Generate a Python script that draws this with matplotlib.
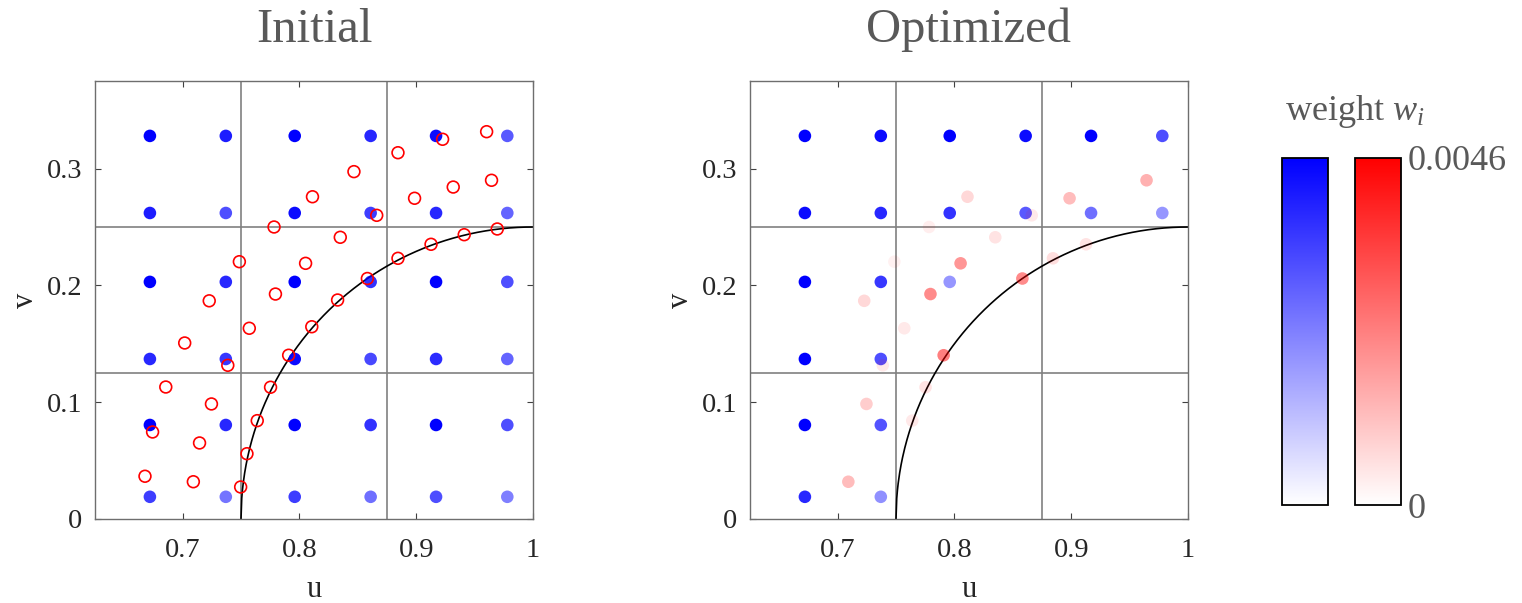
import numpy as np
import matplotlib
matplotlib.use("Agg")
import matplotlib.pyplot as plt
from matplotlib.colors import LinearSegmentedColormap, Normalize
from matplotlib.cm import ScalarMappable

plt.rcParams['font.family'] = ['Liberation Serif', 'DejaVu Serif']
plt.rcParams['mathtext.fontset'] = 'custom'
plt.rcParams['mathtext.rm'] = 'Liberation Serif'
plt.rcParams['mathtext.it'] = 'Liberation Serif:italic'

# ---------------- data ----------------
titles = ["Initial", "Optimized"]
x_ticks = [0.7, 0.8, 0.9, 1.0]
y_ticks = [0.0, 0.1, 0.2, 0.3]
cell_u = [0.75, 0.875]
cell_v = [0.125, 0.25]
w_max = 0.0046

# blue grid nodes
u_nodes = [0.672, 0.737, 0.796, 0.861, 0.917, 0.978]
v_nodes = [0.019, 0.0805, 0.137, 0.203, 0.262, 0.328]

# blue weights (x1e-3), rows = v_nodes (bottom->top), cols = u_nodes
blue_w_initial = [
    [3.5, 2.5, 3.5, 2.6, 3.2, 2.3],
    [4.6, 3.9, 4.6, 3.7, 4.6, 3.2],
    [3.9, 3.6, 4.4, 3.3, 3.8, 2.8],
    [4.6, 3.9, 4.6, 3.7, 4.6, 3.2],
    [4.1, 3.2, 4.4, 3.5, 3.9, 2.8],
    [4.6, 4.1, 4.6, 3.9, 4.4, 3.0],
]
blue_w_optimized = [
    [3.9, 2.0, 0.0, 0.0, 0.0, 0.0],
    [4.6, 3.1, 0.0, 0.0, 0.0, 0.0],
    [4.6, 3.2, 0.0, 0.0, 0.0, 0.0],
    [4.6, 3.6, 1.9, 0.0, 0.0, 0.0],
    [4.4, 3.9, 3.7, 3.0, 2.6, 1.9],
    [4.6, 4.4, 4.6, 4.4, 4.6, 3.2],
]

# red sample points
red_u = [0.9603, 0.9226, 0.8844, 0.8467, 0.9645, 0.9317, 0.8112, 0.8986, 0.8662,
         0.7783, 0.9694, 0.8350, 0.9411, 0.9127, 0.7486, 0.8844, 0.8053, 0.8582,
         0.7795, 0.7228, 0.8327, 0.7571, 0.8106, 0.7018, 0.7908, 0.7387, 0.6856,
         0.7753, 0.7247, 0.7639, 0.6743, 0.7145, 0.7551, 0.6678, 0.7092, 0.7497]
red_v = [0.3316, 0.3251, 0.3136, 0.2974, 0.2900, 0.2842, 0.2759, 0.2746, 0.2600,
         0.2500, 0.2483, 0.2412, 0.2434, 0.2352, 0.2203, 0.2232, 0.2189, 0.2059,
         0.1926, 0.1868, 0.1875, 0.1633, 0.1646, 0.1507, 0.1402, 0.1316, 0.1130,
         0.1128, 0.0985, 0.0842, 0.0745, 0.0651, 0.0559, 0.0366, 0.0319, 0.0274]
# optimized red weights (x1e-3)
red_w_optimized = [0.0, 0.0, 0.0, 0.0, 1.4, 0.0, 0.7, 1.2, 0.4,
                   0.3, 0.0, 0.5, 0.0, 0.5, 0.25, 0.6, 1.9, 2.1,
                   2.1, 0.7, 0.0, 0.4, 0.0, 0.0, 2.3, 0.4, 0.0,
                   0.5, 0.9, 0.4, 0.0, 0.0, 0.0, 0.0, 1.2, 0.0]

# ---------------- figure ----------------
W, H = 1522, 603
fig = plt.figure(figsize=(W / 100, H / 100), dpi=100)

def fx(px):
    return px / W

def fy(py):
    return 1 - py / H

ax_w = 438
axes_left_px = [95, 750]
ax_top, ax_bot = 81, 519

title_col = '#595959'
tick_col = '#262626'

UU, VV = np.meshgrid(u_nodes, v_nodes)

def circle(u):
    return np.sqrt(np.clip(0.25 ** 2 - (u - 1.0) ** 2, 0, None))

for k, left in enumerate(axes_left_px):
    ax = fig.add_axes([fx(left), fy(ax_bot), ax_w / W, (ax_bot - ax_top) / H])
    ax.set_xlim(0.625, 1.0)
    ax.set_ylim(0.0, 0.375)
    for g in cell_u:
        ax.axvline(g, color='#808080', lw=1.2, zorder=1)
    for g in cell_v:
        ax.axhline(g, color='#808080', lw=1.2, zorder=1)
    uc = np.linspace(0.75, 1.0, 400)
    ax.plot(uc, circle(uc), color='black', lw=1.2, zorder=2)

    bw = np.array(blue_w_initial if k == 0 else blue_w_optimized) * 1e-3
    alpha_b = np.clip(bw / w_max, 0, 1).ravel()
    cols_b = np.zeros((alpha_b.size, 4))
    cols_b[:, 2] = 1.0
    cols_b[:, 3] = alpha_b
    ax.scatter(UU.ravel(), VV.ravel(), s=82, c=cols_b, edgecolors='none', zorder=3)

    if k == 0:
        ax.scatter(red_u, red_v, s=72, facecolors='none', edgecolors='red',
                   linewidths=1.2, zorder=4)
    else:
        rw = np.array(red_w_optimized) * 1e-3
        alpha_r = np.clip(rw / w_max, 0, 1)
        cols_r = np.zeros((alpha_r.size, 4))
        cols_r[:, 0] = 1.0
        cols_r[:, 3] = alpha_r
        ax.scatter(red_u, red_v, s=82, c=cols_r, edgecolors='none', zorder=4)

    ax.set_xticks(x_ticks)
    ax.set_xticklabels(['%g' % t for t in x_ticks])
    ax.set_yticks(y_ticks)
    ax.set_yticklabels(['%g' % t for t in y_ticks])
    ax.tick_params(direction='in', length=4, width=0.8, color='#404040',
                   top=True, right=True, labelsize=20.5, labelcolor=tick_col)
    ax.tick_params(axis='x', pad=14)
    ax.tick_params(axis='y', pad=9)
    for sp in ax.spines.values():
        sp.set_color('#6e6e6e')
        sp.set_linewidth(1.0)
    ax.set_xlabel('u', fontsize=22, color=tick_col, labelpad=8)
    ax.set_ylabel('v', fontsize=22, color=tick_col, labelpad=5)
    fig.text(fx(left + ax_w / 2), fy(30), titles[k], fontsize=35,
             color=title_col, ha='center', va='center')

# ---------------- colorbars ----------------
cb_top, cb_bot = 158, 505
norm = Normalize(0, w_max)
cmaps = [LinearSegmentedColormap.from_list('wb', ['white', 'blue']),
         LinearSegmentedColormap.from_list('wr', ['white', 'red'])]
cb_lefts = [1282, 1355]
cb_w = 46
for i, (cm, l) in enumerate(zip(cmaps, cb_lefts)):
    cax = fig.add_axes([fx(l), fy(cb_bot), cb_w / W, (cb_bot - cb_top) / H])
    cb = fig.colorbar(ScalarMappable(norm=norm, cmap=cm), cax=cax)
    cb.outline.set_edgecolor('black')
    cb.outline.set_linewidth(1.3)
    if i == 0:
        cb.set_ticks([])
    else:
        cb.set_ticks([0, w_max])
        cb.set_ticklabels(['0', '0.0046'])
        cax.tick_params(length=0, pad=5, labelsize=26, labelcolor=title_col)

fig.text(fx(1355), fy(112), r'weight $w_i$', fontsize=26, color=title_col,
         ha='center', va='center')

fig.savefig('out.png', dpi=100)
